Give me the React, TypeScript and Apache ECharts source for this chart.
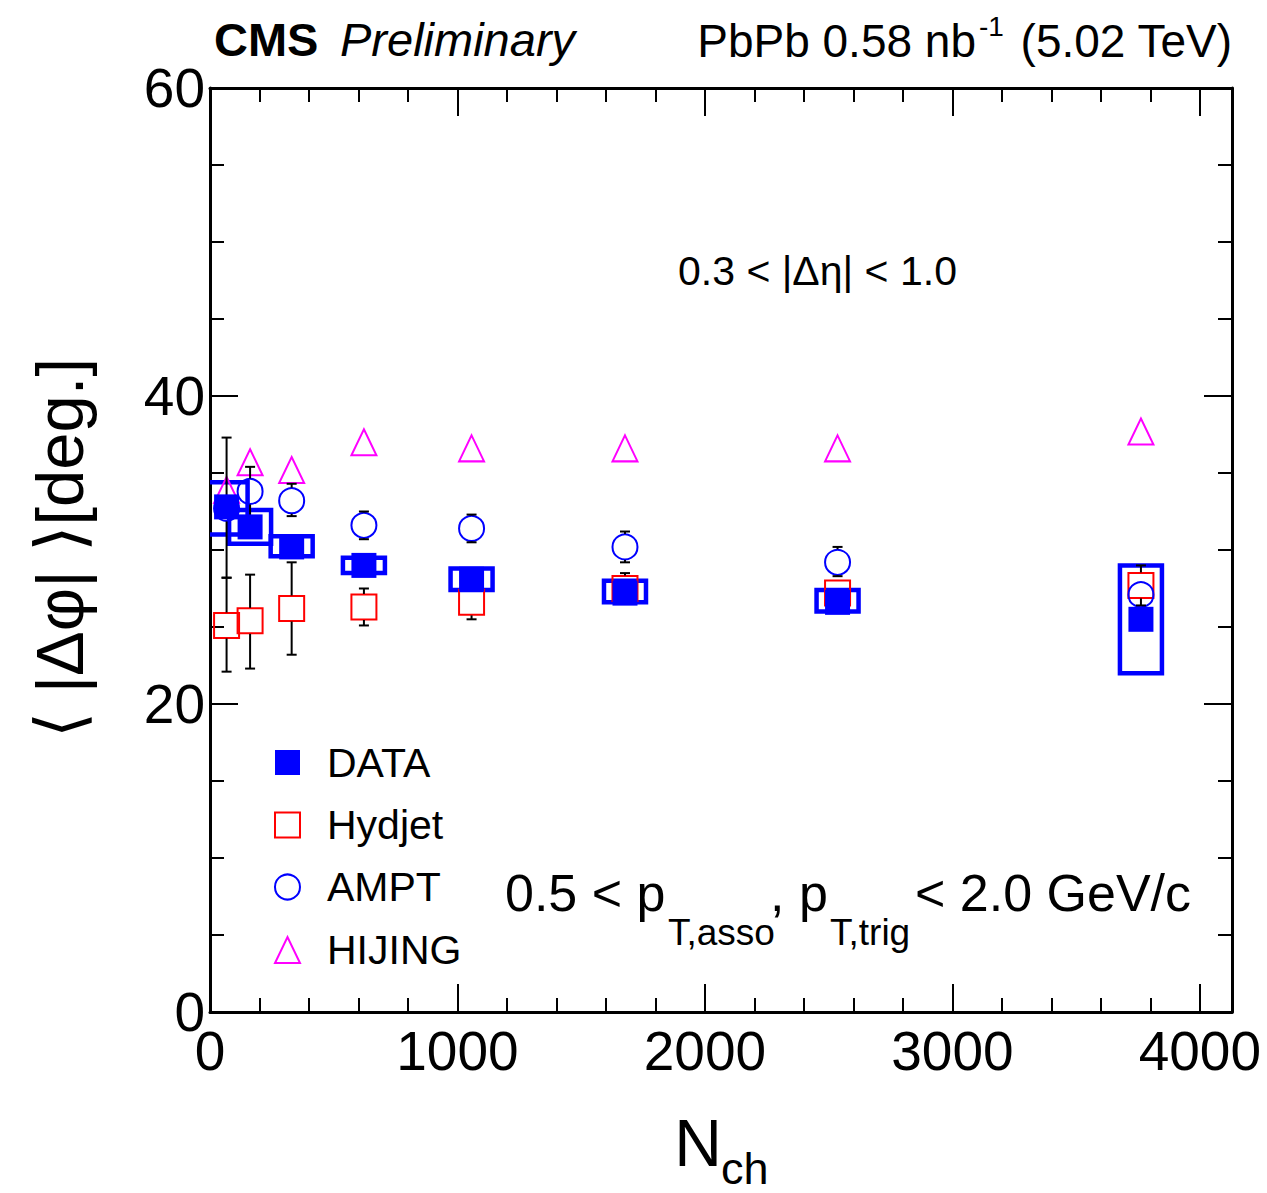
import React, { useEffect, useRef } from "react";
import * as echarts from "echarts";

// ---- data ----
const nch = [67, 162, 330, 622, 1057, 1677, 2536, 3762];
const dataVal = [32.8, 31.5, 30.2, 29.0, 28.1, 27.2, 26.6, 25.5];
const sysLo = [31.0, 30.4, 29.6, 28.5, 27.4, 26.6, 26.0, 22.0];
const sysHi = [34.4, 32.6, 30.9, 29.5, 28.8, 28.0, 27.4, 29.0];
const hydjetVal = [25.1, 25.4, 26.2, 26.3, 26.6, 27.5, 27.2, 27.7];
const hydjetLo = [22.1, 22.3, 23.2, 25.1, 25.5, 26.5, 26.4, 26.4];
const hydjetHi = [28.2, 28.4, 29.2, 27.5, 27.7, 28.5, 28.0, 29.0];
const amptVal = [32.7, 33.8, 33.2, 31.6, 31.4, 30.2, 29.2, 27.1];
const amptLo = [28.2, 32.2, 32.2, 30.7, 30.5, 29.2, 28.3, 26.3];
const amptHi = [37.3, 35.4, 34.3, 32.5, 32.3, 31.2, 30.2, 27.9];
const hijingVal = [33.9, 35.7, 35.2, 37.0, 36.6, 36.6, 36.6, 37.7];

const xMajor = [0, 1000, 2000, 3000, 4000];
const xMinor = [200, 400, 600, 800, 1200, 1400, 1600, 1800, 2200, 2400, 2600, 2800, 3200, 3400, 3600, 3800];
const yTicks = [0, 20, 40, 60];

const FONT = "'Liberation Sans', Arial, Helvetica, 'DejaVu Sans', sans-serif";

function txt(text: string, x: number, y: number, size: number, opts: any = {}) {
  const align = opts.align || "left";
  return {
    type: "text",
    x,
    y,
    rotation: opts.rotation || 0,
    z: 100,
    style: {
      text,
      fill: "#000",
      fontSize: size,
      fontFamily: FONT,
      fontWeight: opts.weight || "normal",
      fontStyle: opts.style || "normal",
      align,
      textAlign: align,
      verticalAlign: "middle",
      textVerticalAlign: "middle",
    },
  };
}

const errRender = (params: any, api: any) => {
  const x = api.value(0);
  const y = api.value(1);
  const lo = api.value(2);
  const hi = api.value(3);
  const p = api.coord([x, y]);
  const t = api.coord([x, hi]);
  const b = api.coord([x, lo]);
  const gap = 13;
  const cw = 5;
  const style = { stroke: "#000", lineWidth: 2 };
  const children: any[] = [];
  if (t[1] < p[1] - gap) {
    children.push({ type: "line", shape: { x1: p[0], y1: p[1] - gap, x2: p[0], y2: t[1] }, style });
    children.push({ type: "line", shape: { x1: p[0] - cw, y1: t[1], x2: p[0] + cw, y2: t[1] }, style });
  }
  if (b[1] > p[1] + gap) {
    children.push({ type: "line", shape: { x1: p[0], y1: p[1] + gap, x2: p[0], y2: b[1] }, style });
    children.push({ type: "line", shape: { x1: p[0] - cw, y1: b[1], x2: p[0] + cw, y2: b[1] }, style });
  }
  return { type: "group", children };
};

const boxRender = (params: any, api: any) => {
  const x = api.value(0);
  const lo = api.value(1);
  const hi = api.value(2);
  const t = api.coord([x, hi]);
  const b = api.coord([x, lo]);
  const hw = 21;
  return {
    type: "rect",
    shape: { x: t[0] - hw, y: t[1], width: hw * 2, height: b[1] - t[1] },
    style: { fill: "none", stroke: "#0000ff", lineWidth: 4.5 },
  };
};

function xAxisDef(position: "bottom" | "top", major: boolean) {
  return {
    type: "value",
    min: 0,
    max: 4130,
    position,
    axisLine: { show: major, onZero: false, lineStyle: { color: "#000", width: 3 } },
    axisTick: {
      show: true,
      inside: true,
      length: major ? 28 : 14,
      lineStyle: { color: "#000", width: 2 },
      customValues: major ? xMajor : xMinor,
    },
    axisLabel: {
      show: major && position === "bottom",
      customValues: xMajor,
      formatter: (v: number) => String(v),
      fontSize: 55,
      fontFamily: FONT,
      color: "#000",
      margin: 11,
    },
    splitLine: { show: false },
  };
}

function yAxisDef(position: "left" | "right") {
  return {
    type: "value",
    min: 0,
    max: 60,
    interval: 20,
    position,
    axisLine: { show: true, onZero: false, lineStyle: { color: "#000", width: 3 } },
    axisTick: { show: true, inside: true, length: 28, lineStyle: { color: "#000", width: 2 } },
    minorTick: { show: true, splitNumber: 4, length: 14, lineStyle: { color: "#000", width: 2 } },
    axisLabel: {
      show: position === "left",
      customValues: yTicks,
      formatter: (v: number) => String(v),
      fontSize: 55,
      fontFamily: FONT,
      color: "#000",
      margin: 5,
    },
    splitLine: { show: false },
    minorSplitLine: { show: false },
  };
}

export default function App() {
  const ref = useRef<HTMLDivElement>(null);
  useEffect(() => {
    document.body.style.margin = "0";
    const chart = echarts.init(ref.current!, null, { renderer: "svg" });

    const errData: any[] = [];
    nch.forEach((x, i) => errData.push([x, hydjetVal[i], hydjetLo[i], hydjetHi[i]]));
    nch.forEach((x, i) => errData.push([x, amptVal[i], amptLo[i], amptHi[i]]));

    const option: any = {
      animation: false,
      backgroundColor: "#fff",
      grid: { left: 210, right: 35, top: 88, bottom: 181, containLabel: false, outerBoundsMode: "none" },
      xAxis: [xAxisDef("bottom", true), xAxisDef("bottom", false), xAxisDef("top", true), xAxisDef("top", false)],
      yAxis: [yAxisDef("left"), yAxisDef("right")],
      series: [
        {
          name: "DATA syst.",
          type: "custom",
          clip: true,
          z: 2,
          renderItem: boxRender,
          data: nch.map((x, i) => [x, sysLo[i], sysHi[i]]),
          encode: { x: 0, y: [1, 2] },
        },
        {
          name: "Hydjet",
          type: "scatter",
          z: 3,
          symbol: "rect",
          symbolSize: 25,
          itemStyle: { color: "rgba(0,0,0,0)", borderColor: "#ff0000", borderWidth: 2, opacity: 1 },
          data: nch.map((x, i) => [x, hydjetVal[i]]),
        },
        {
          name: "AMPT",
          type: "scatter",
          z: 3,
          symbol: "circle",
          symbolSize: 25,
          itemStyle: { color: "rgba(0,0,0,0)", borderColor: "#0000ff", borderWidth: 2, opacity: 1 },
          data: nch.map((x, i) => [x, amptVal[i]]),
        },
        {
          name: "HIJING",
          type: "scatter",
          z: 3,
          symbol: "triangle",
          symbolSize: [25, 26],
          itemStyle: { color: "rgba(0,0,0,0)", borderColor: "#ff00ff", borderWidth: 2, opacity: 1 },
          data: nch.map((x, i) => [x, hijingVal[i]]),
        },
        {
          name: "errors",
          type: "custom",
          z: 4,
          renderItem: errRender,
          data: errData,
          encode: { x: 0, y: [1, 2, 3] },
        },
        {
          name: "DATA",
          type: "scatter",
          z: 5,
          symbol: "rect",
          symbolSize: 25,
          itemStyle: { color: "#0000ff", opacity: 1 },
          data: nch.map((x, i) => [x, dataVal[i]]),
        },
      ],
      graphic: [
        txt("CMS", 214, 39, 47, { weight: "bold" }),
        txt("Preliminary", 340, 39, 47, { style: "italic" }),
        txt("PbPb 0.58 nb", 976, 41, 46, { align: "right" }),
        txt("-1", 979, 26, 28),
        txt("(5.02 TeV)", 1232, 41, 46, { align: "right" }),
        txt("0.3 < |Δη| < 1.0", 678, 271, 41),
        txt("0.5 < p", 505, 893, 52),
        txt("T,asso", 668, 932, 37),
        txt(", p", 770, 893, 52),
        txt("T,trig", 830, 932, 37),
        txt("< 2.0 GeV/c", 915, 893, 52),
        txt("⟨ |Δφ| ⟩[deg.]", 59, 548, 67, { rotation: Math.PI / 2, align: "center" }),
        txt("N", 698, 1143, 66, { align: "center" }),
        txt("ch", 721, 1168, 45),
        // legend
        { type: "rect", z: 100, shape: { x: 275, y: 750, width: 25, height: 25 }, style: { fill: "#0000ff" } },
        { type: "rect", z: 100, shape: { x: 275, y: 812.5, width: 25, height: 25 }, style: { fill: "none", stroke: "#ff0000", lineWidth: 2 } },
        { type: "circle", z: 100, shape: { cx: 287.5, cy: 887, r: 12.5 }, style: { fill: "none", stroke: "#0000ff", lineWidth: 2 } },
        { type: "polygon", z: 100, shape: { points: [[275, 963], [300, 963], [287.5, 937]] }, style: { fill: "none", stroke: "#ff00ff", lineWidth: 2 } },
        txt("DATA", 327, 763, 41),
        txt("Hydjet", 327, 825, 41),
        txt("AMPT", 327, 887, 41),
        txt("HIJING", 327, 950, 41),
      ],
    };
    chart.setOption(option);
    return () => chart.dispose();
  }, []);
  return <div ref={ref} style={{ position: "absolute", left: 0, top: 0, width: 1267, height: 1193 }} />;
}
